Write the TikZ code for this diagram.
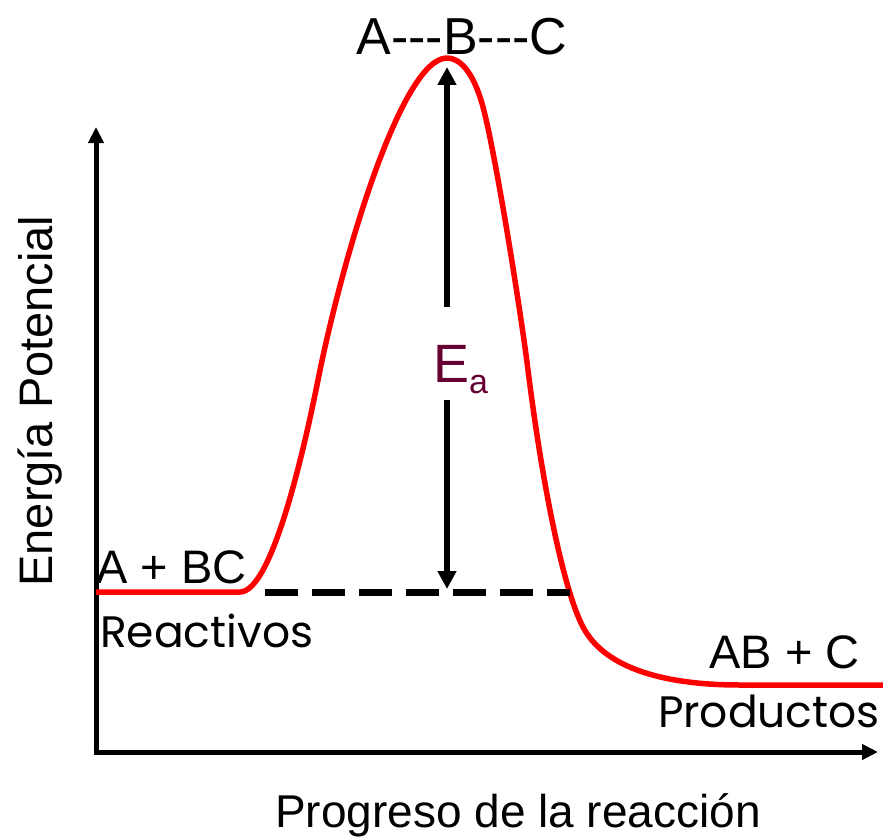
\documentclass[tikz,border=0pt]{standalone}
\usepackage{fontspec}
\setmainfont{Liberation Sans}
\newfontfamily\comicfont{Poppins}
\usetikzlibrary{arrows.meta}
\definecolor{eacol}{RGB}{102,0,51}
\begin{document}
\begin{tikzpicture}[x=1pt,y=-1pt,
  axisline/.style={line width=5pt,-{Triangle[width=15pt,length=16pt]}},
  eaarrow/.style={line width=6.5pt,-{Triangle[width=18pt,length=18pt]}},
  curveline/.style={red, line width=5.5pt, line join=round},
  dashline/.style={line width=7pt, dash pattern=on 33pt off 14pt},
  lbl/.style={inner sep=0pt, font=\fontsize{47}{56}\selectfont},
  cmc/.style={inner sep=0pt, font=\comicfont\fontsize{44}{52}\selectfont},
]
\useasboundingbox (0,0) rectangle (883,840);

% named points
\coordinate (ybot) at (96,754.5);
\coordinate (ytip) at (96,127);
\coordinate (xleft) at (93.5,752);
\coordinate (xtip) at (878,752);
\coordinate (eaup) at (447,307);
\coordinate (eatop) at (447,67);
\coordinate (ealow) at (447,400);
\coordinate (eabot) at (447,589);
\coordinate (dashL) at (265,592);
\coordinate (dashR) at (570,592);

% axes
\draw[axisline] (ybot) -- (ytip);
\draw[axisline] (xleft) -- (xtip);

% reaction curve
\draw[curveline] (96,592) -- (240,592)
  .. controls (273,592) and (306,440) .. (318,380)
  .. controls (343,255) and (402,58) .. (447,58)
  .. controls (459,58) and (473,70) .. (483,107)
  .. controls (495,151.4) and (520,306) .. (528,370)
  .. controls (542,482) and (563,589) .. (583,627)
  .. controls (608,674.5) and (680,685) .. (740,685)
  -- (883,685);

% dashed reference line
\draw[dashline] (dashL) -- (dashR);

% activation energy arrow
\draw[eaarrow] (eaup) -- (eatop);
\draw[eaarrow] (ealow) -- (eabot);
\node[anchor=base west, inner sep=0pt, text=eacol] (ea) at (433,382)
  {\fontsize{54}{60}\selectfont E\raisebox{-11pt}{\fontsize{34}{40}\selectfont a}};

% labels
\node[lbl, anchor=base, font=\fontsize{52}{60}\selectfont] (ts) at (462,55) {A-{}-{}-B-{}-{}-C};
\node[lbl, anchor=base west] (reac) at (96,583) {A + BC};
\node[lbl, anchor=base east] (prod) at (860,668) {AB + C};
\node[cmc, anchor=base west] (reacw) at (100,647) {Reactivos};
\node[cmc, anchor=base east] (prodw) at (880,727) {Productos};
\node[lbl, rotate=90, anchor=base] (ylab) at (52,401) {Energía Potencial};
\node[lbl, anchor=base, font=\fontsize{46}{54}\selectfont] (xlab) at (518,827) {Progreso de la reacción};
\end{tikzpicture}
\end{document}
